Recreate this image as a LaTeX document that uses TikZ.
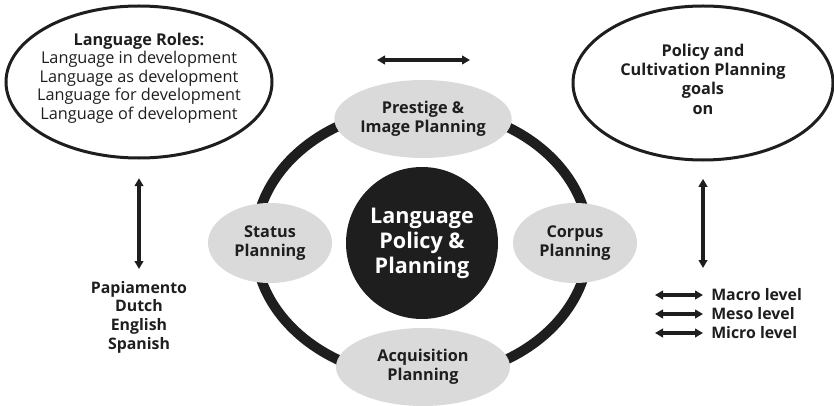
\documentclass[tikz,border=0pt]{standalone}
\usepackage{fontspec}
\setmainfont{Open Sans}
\usetikzlibrary{shapes.geometric,arrows.meta}
\definecolor{ink}{HTML}{1E1E1E}
\definecolor{pale}{HTML}{DADADA}
\tikzset{
  oval/.style={ellipse, draw=ink, line width=2.25pt, inner sep=0pt},
  plan/.style={ellipse, fill=pale, align=center, inner sep=0pt, text=ink,
    font=\fontsize{12.2}{14.3}\selectfont\bfseries},
  body/.style={align=center, inner sep=0pt, text=ink, font=\fontsize{12.2}{13.9}\selectfont},
  level/.style={anchor=west, inner sep=0pt, text=ink, font=\fontsize{11.9}{14}\selectfont\bfseries},
  twoway/.style={{Triangle[length=6pt,width=6.5pt]}-{Triangle[length=6pt,width=6.5pt]},
    line width=2.6pt, draw=ink}
}
\begin{document}
\begin{tikzpicture}[x=0.75pt,y=-0.75pt]
    \useasboundingbox (0,0) rectangle (834,406);
    % the ring round the centre
    \draw [ink, line width=7.5pt] (422,243) ellipse [x radius=167, y radius=135];
    \node [circle, fill=ink, minimum size=114pt, inner sep=0pt, text=white, align=center,
      font=\fontsize{16.2}{18.75}\selectfont\bfseries] (lpp) at (422,243) {Language\\Policy \&\\Planning};
    % four kinds of planning on the ring
    \node [plan, minimum width=130.5pt, minimum height=58.5pt] (prestige) at (423,119) {Prestige \&\\Image Planning};
    \node [plan, minimum width=93pt, minimum height=60pt] (status) at (270,243) {Status\\Planning};
    \node [plan, minimum width=93pt, minimum height=60pt] (corpus) at (575,243) {Corpus\\Planning};
    \node [plan, minimum width=130.5pt, minimum height=58.5pt] (acquisition) at (423,367) {Acquisition\\Planning};
    \coordinate (topleft) at (377,60);
    \coordinate (topright) at (470,60);
    \draw [twoway] (topleft) -- (topright);
    % left side
    \node [oval, minimum width=199.5pt, minimum height=114pt] (roles) at (139,82) {};
    \node [body] (rolestext) at (139,78) {\textbf{Language Roles:}\\Language in development\\Language as development\\Language for development\\Language of development};
    \node [body, anchor=north, font=\fontsize{11.9}{14}\selectfont\bfseries] (langs) at (139,281) {Papiamento\\Dutch\\English\\Spanish};
    \draw [twoway, line width=3pt, shorten <=14pt, shorten >=9pt] (roles.south) -- (langs.north);
    % right side
    \node [oval, minimum width=195pt, minimum height=115.5pt] (goals) at (703,83) {};
    \node [body, font=\fontsize{12.2}{14.5}\selectfont\bfseries] (goalstext) at (703,79) {Policy and\\Cultivation Planning\\goals\\on};
    \coordinate (goalsfoot) at (703,268);
    \draw [twoway, line width=3pt, shorten <=13pt] (goals.south) -- (goalsfoot);
    \node [level] (macro) at (711,295) {Macro level};
    \node [level] (meso) at (711,314) {Meso level};
    \node [level] (micro) at (711,333) {Micro level};
    \coordinate (macrotail) at (655,295);
    \coordinate (mesotail) at (655,314);
    \coordinate (microtail) at (655,333);
    \draw [twoway, shorten >=6pt] (macrotail) -- (macro.west);
    \draw [twoway, shorten >=6pt] (mesotail) -- (meso.west);
    \draw [twoway, shorten >=6pt] (microtail) -- (micro.west);
\end{tikzpicture}
\end{document}
